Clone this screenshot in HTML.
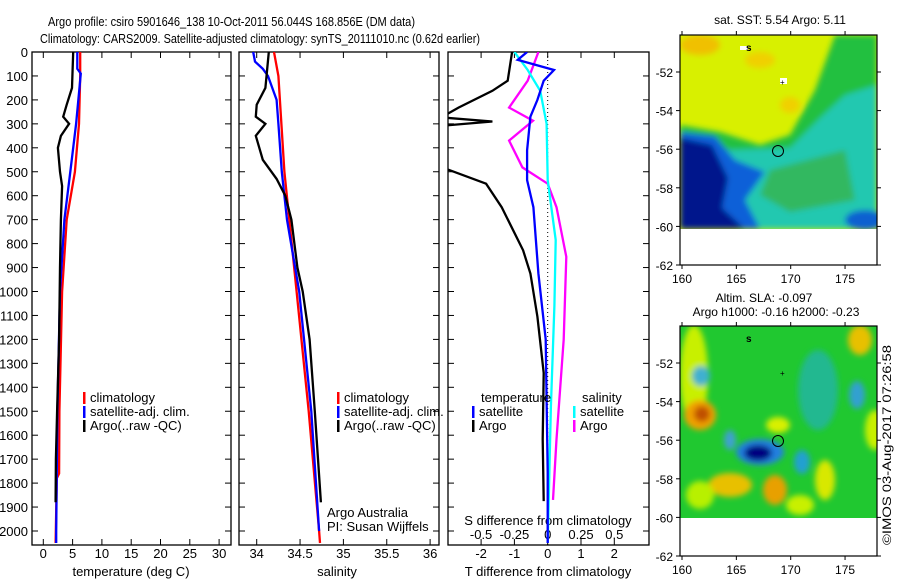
<!DOCTYPE html>
<html><head><meta charset="utf-8"><style>
html,body{margin:0;padding:0;background:#fff;width:900px;height:580px;overflow:hidden}
svg{display:block;font-family:"Liberation Sans",sans-serif;font-size:13px}
</style></head><body>
<svg id="chart" width="900" height="580" viewBox="0 0 900 580">
<defs>
<filter id="blur" x="-20%" y="-20%" width="140%" height="140%"><feGaussianBlur stdDeviation="3"/></filter>
<clipPath id="clipMap1"><rect x="680" y="35" width="197" height="194"/></clipPath>
<clipPath id="clipMap2"><rect x="680" y="326" width="197" height="192"/></clipPath>
<clipPath id="clipP1"><rect x="32" y="52" width="199" height="493"/></clipPath>
<clipPath id="clipP2"><rect x="239" y="52" width="200" height="493"/></clipPath>
<clipPath id="clipP3"><rect x="448" y="52" width="201" height="493"/></clipPath>
</defs>
<text x="48" y="26" textLength="367" lengthAdjust="spacingAndGlyphs">Argo profile: csiro 5901646_138 10-Oct-2011 56.044S 168.856E (DM data)</text>
<text x="40" y="43" textLength="440" lengthAdjust="spacingAndGlyphs">Climatology: CARS2009. Satellite-adjusted climatology: synTS_20111010.nc (0.62d earlier)</text>
<g id="plots"></g>

<!-- top map -->
<g>
<text x="780" y="24" text-anchor="middle" font-size="12">sat. SST: 5.54 Argo: 5.11</text>
<g clip-path="url(#clipMap1)">
<rect x="680" y="35" width="197" height="194" fill="#d8f000"/>
<g filter="url(#blur)">
<ellipse cx="700" cy="45" rx="20" ry="10" fill="#f0c000"/>
<ellipse cx="760" cy="60" rx="15" ry="8" fill="#f0d000"/>
<ellipse cx="790" cy="105" rx="10" ry="8" fill="#f0d000"/>
<polygon points="835,35 877,35 877,229 680,229 680,125 720,132 760,145 790,135 815,90" fill="#20c040"/>
<polygon points="845,95 877,85 877,229 680,229 680,135 730,150 790,148 820,118" fill="#20c8b0"/>
<polygon points="770,170 845,150 855,200 790,212 760,195" fill="#30b860"/>
<polygon points="680,132 715,136 735,160 765,172 745,200 760,229 680,229" fill="#1060d8"/>
<polygon points="680,138 712,145 728,178 722,208 745,229 680,229" fill="#00188c"/>
<ellipse cx="865" cy="220" rx="20" ry="10" fill="#1060d0"/>
</g>
</g>
<rect x="740" y="46" width="8" height="4" fill="#fff"/>
<text x="746" y="51" font-size="10" font-weight="bold">s</text>
<rect x="780" y="78" width="7" height="6" fill="#fff"/>
<text x="780" y="85" font-size="8">+</text>
<circle cx="778" cy="151" r="5.5" fill="none" stroke="#000" stroke-width="1"/>
<g id="map1axes"></g>
</g>

<!-- bottom map -->
<g>
<text x="764" y="302" text-anchor="middle" font-size="12">Altim. SLA: -0.097</text>
<text x="776" y="316" text-anchor="middle" font-size="12">Argo h1000: -0.16 h2000: -0.23</text>
<g clip-path="url(#clipMap2)">
<rect x="680" y="326" width="197" height="192" fill="#20c830"/>
<g filter="url(#blur)">
<ellipse cx="694" cy="375" rx="14" ry="50" fill="#c8f000"/>
<ellipse cx="700" cy="415" rx="16" ry="15" fill="#f0a000"/>
<ellipse cx="702" cy="414" rx="8" ry="8" fill="#c05000"/>
<ellipse cx="701" cy="376" rx="9" ry="10" fill="#40b0d0"/>
<ellipse cx="760" cy="452" rx="24" ry="13" fill="#2080e0"/>
<ellipse cx="758" cy="453" rx="14" ry="8" fill="#000080"/>
<ellipse cx="730" cy="440" rx="6" ry="10" fill="#40a0d0"/>
<ellipse cx="802" cy="462" rx="8" ry="12" fill="#20a0d0"/>
<ellipse cx="818" cy="390" rx="20" ry="40" fill="#20b890"/>
<ellipse cx="857" cy="395" rx="8" ry="14" fill="#30a0d0"/>
<ellipse cx="860" cy="340" rx="12" ry="15" fill="#e8c000"/>
<ellipse cx="875" cy="430" rx="10" ry="20" fill="#c8f000"/>
<ellipse cx="778" cy="425" rx="12" ry="8" fill="#d8f000"/>
<ellipse cx="730" cy="485" rx="22" ry="12" fill="#e8c000"/>
<ellipse cx="775" cy="490" rx="12" ry="15" fill="#e8a000"/>
<ellipse cx="825" cy="480" rx="10" ry="20" fill="#d8e800"/>
<ellipse cx="700" cy="495" rx="14" ry="14" fill="#b8f000"/>
<ellipse cx="800" cy="505" rx="14" ry="10" fill="#c8f000"/>
</g>
</g>
<text x="746" y="342" font-size="10" font-weight="bold">s</text>
<text x="780" y="376" font-size="8">+</text>
<circle cx="778" cy="441" r="5.5" fill="none" stroke="#000" stroke-width="1"/>
<g id="map2axes"></g>
</g>
<text transform="translate(891,545) rotate(-90)" font-size="12" textLength="200" lengthAdjust="spacingAndGlyphs">©IMOS 03-Aug-2017 07:26:58</text>
</svg>
<script>
// ---- data ----
const depthTicks = [0,100,200,300,400,500,600,700,800,900,1000,1100,1200,1300,1400,1500,1600,1700,1800,1900,2000];
const tempTicks = [0,5,10,15,20,25,30];
const salTicks = [34,34.5,35,35.5,36];
const tdiffTicks = [-2,-1,0,1,2];
const sdiffTickLabels = ['-0.5','-0.25','0','0.25','0.5'];
const sdiffTicks = [-0.5,-0.25,0,0.25,0.5];

const tClimDepth = [0,100,300,500,700,1000,1500,1760,1780,2050];
const tClimVal   = [6.3,6.3,6.1,5.4,4.0,3.2,2.75,2.7,2.3,2.1];
const tSatDepth  = [0,70,90,300,500,700,1000,1500,2000,2050];
const tSatVal    = [5.8,5.8,6.4,5.6,4.6,3.6,2.85,2.4,2.2,2.2];
const tArgoDepth = [0,150,220,270,300,350,400,500,560,700,900,1200,1500,1700,1880];
const tArgoVal   = [5.1,4.9,4.0,3.4,4.4,3.0,2.5,2.85,3.2,3.0,2.85,2.7,2.35,2.15,2.1];

const sClimDepth = [0,100,500,1000,1500,2000,2050];
const sClimVal   = [34.2,34.25,34.32,34.46,34.6,34.72,34.73];
const sSatDepth  = [0,40,70,100,200,300,500,700,1000,1500,2000];
const sSatVal    = [33.96,33.98,34.07,34.13,34.23,34.25,34.29,34.35,34.49,34.63,34.72];
const sArgoDepth = [0,150,220,270,300,350,450,530,600,700,900,1000,1200,1500,1880];
const sArgoVal   = [34.14,34.1,34.0,33.99,34.1,33.99,34.07,34.23,34.33,34.4,34.47,34.53,34.61,34.67,34.74];

const dTArgoDepth = [0,120,162,232,273,290,308,480,550,648,828,925,1105,1340,1617,1875];
const dTArgoVal   = [-1.07,-1.2,-1.66,-2.68,-3.2,-1.66,-3.2,-3.2,-1.85,-1.38,-0.74,-0.52,-0.31,-0.12,-0.15,-0.12];
const dTSatDepth  = [0,33,75,120,200,270,410,535,648,925,1200,1755,2050];
const dTSatVal    = [-0.62,-0.9,0.19,-0.12,-0.31,-0.52,-0.62,-0.62,-0.43,-0.28,-0.06,0,0];
const dSSatDepth  = [0,75,162,300,535,785,1060,1480,2050];
const dSSatVal    = [-0.25,-0.15,-0.056,-0.008,0,0.06,0.05,0.024,0];
const dSArgoDepth = [0,120,232,287,370,482,550,648,855,1200,1617,1870];
const dSArgoVal   = [-0.07,-0.15,-0.29,-0.11,-0.29,-0.19,0,0.066,0.14,0.12,0.066,0.04];

const mapLon = [160,165,170,175];
const mapLat = [-52,-54,-56,-58,-60,-62];

// ---- scales ----
const yD = d => 52 + d*0.2395;
const xT = v => 43.3 + v*5.86;
const xS = v => 256.7 + (v-34)*86.7;
const xDT = v => 547.7 + v*33.3;
const xDS = v => 547.7 + v*133.2;
const xLon = v => 682 + (v-160)*10.87;
const yLat1 = v => 72 + (-52 - v)*19.3;
const yLat2 = v => 363 + (-52 - v)*19.3;

const NS='http://www.w3.org/2000/svg';
const root=document.getElementById('plots');
function mk(tag,attrs,parent){const e=document.createElementNS(NS,tag);for(const k in attrs)e.setAttribute(k,attrs[k]);(parent||root).appendChild(e);return e;}
function txt(s,x,y,anchor,parent,size){const t=mk('text',{x:x,y:y,'text-anchor':anchor||'start'},parent);if(size)t.setAttribute('font-size',size);t.textContent=s;return t;}
function stepPath(depths,vals,xf){
  let d='';
  for(let i=0;i<depths.length;i++){
    const x=xf(vals[i]).toFixed(1), y=yD(depths[i]).toFixed(1);
    d += (i===0?'M':' L')+x+','+y;
  }
  return d;
}
function line(depths,vals,xf,color,clip,name){
  const p=mk('path',{d:stepPath(depths,vals,xf),fill:'none',stroke:color,'stroke-width':2.3,'stroke-linejoin':'miter','clip-path':'url(#'+clip+')'});
  
  
}
function frame(x0,x1,name){
  const r=mk('rect',{x:x0,y:52,width:x1-x0,height:493,fill:'none',stroke:'#000','stroke-width':1.3});
  
  
}

frame(32,231,'temperature-panel-frame');
frame(239,439,'salinity-panel-frame');
frame(448,649,'difference-panel-frame');

depthTicks.forEach(d=>{
  const t=txt(String(d),28,yD(d)+5,'end');
  
  
  mk('line',{x1:32,x2:38,y1:yD(d),y2:yD(d),stroke:'#000'});
  mk('line',{x1:231,x2:225,y1:yD(d),y2:yD(d),stroke:'#000'});
  mk('line',{x1:239,x2:245,y1:yD(d),y2:yD(d),stroke:'#000'});
  mk('line',{x1:439,x2:433,y1:yD(d),y2:yD(d),stroke:'#000'});
  mk('line',{x1:448,x2:454,y1:yD(d),y2:yD(d),stroke:'#000'});
  mk('line',{x1:649,x2:643,y1:yD(d),y2:yD(d),stroke:'#000'});
});
tempTicks.forEach(v=>{
  const t=txt(String(v),xT(v),558,'middle');
  
  
  mk('line',{x1:xT(v),x2:xT(v),y1:52,y2:58,stroke:'#000'});
  mk('line',{x1:xT(v),x2:xT(v),y1:545,y2:539,stroke:'#000'});
});
let at=txt('temperature (deg C)',131,576,'middle');


salTicks.forEach(v=>{
  const t=txt(String(v),xS(v),558,'middle');
  
  
  mk('line',{x1:xS(v),x2:xS(v),y1:52,y2:58,stroke:'#000'});
  mk('line',{x1:xS(v),x2:xS(v),y1:545,y2:539,stroke:'#000'});
});
at=txt('salinity',337,576,'middle');


tdiffTicks.forEach(v=>{
  const t=txt(String(v),xDT(v),558,'middle');
  
  
  mk('line',{x1:xDT(v),x2:xDT(v),y1:52,y2:58,stroke:'#000'});
  mk('line',{x1:xDT(v),x2:xDT(v),y1:545,y2:539,stroke:'#000'});
});
sdiffTicks.forEach((v,i)=>{
  const t=txt(sdiffTickLabels[i],xDS(v),539,'middle');
  
  
});
at=txt('S difference from climatology',548,525,'middle');


at=txt('T difference from climatology',548,576,'middle');


mk('line',{x1:xDT(0),x2:xDT(0),y1:52,y2:545,stroke:'#000','stroke-dasharray':'1,3'});

line(tClimDepth,tClimVal,xT,'#ff0000','clipP1','temp-climatology-line');
line(tSatDepth,tSatVal,xT,'#0000ff','clipP1','temp-satellite-line');
line(tArgoDepth,tArgoVal,xT,'#000000','clipP1','temp-argo-line');
line(sClimDepth,sClimVal,xS,'#ff0000','clipP2','sal-climatology-line');
line(sSatDepth,sSatVal,xS,'#0000ff','clipP2','sal-satellite-line');
line(sArgoDepth,sArgoVal,xS,'#000000','clipP2','sal-argo-line');
line(dTArgoDepth,dTArgoVal,xDT,'#000000','clipP3','tdiff-argo-line');
line(dSArgoDepth,dSArgoVal,xDS,'#ff00ff','clipP3','sdiff-argo-line');
line(dSSatDepth,dSSatVal,xDS,'#00ffff','clipP3','sdiff-satellite-line');
line(dTSatDepth,dTSatVal,xDT,'#0000ff','clipP3','tdiff-satellite-line');

function legendItem(x,y,color,label,name){
  const g=mk('g',{});
  
  
  mk('rect',{x:x,y:y-10,width:2.5,height:12,fill:color},g);
  txt(label,x+7,y,'start',g);
}
legendItem(83,402,'#ff0000','climatology','legend-temp-climatology');
legendItem(83,416,'#0000ff','satellite-adj. clim.','legend-temp-satellite');
legendItem(83,430,'#000000','Argo(..raw -QC)','legend-temp-argo');
legendItem(337,402,'#ff0000','climatology','legend-sal-climatology');
legendItem(337,416,'#0000ff','satellite-adj. clim.','legend-sal-satellite');
legendItem(337,430,'#000000','Argo(..raw -QC)','legend-sal-argo');
at=txt('temperature',481,402,'start');  
at=txt('salinity',582,402,'start');  
legendItem(472,416,'#0000ff','satellite','legend-tdiff-satellite');
legendItem(472,430,'#000000','Argo','legend-tdiff-argo');
legendItem(573,416,'#00ffff','satellite','legend-sdiff-satellite');
legendItem(573,430,'#ff00ff','Argo','legend-sdiff-argo');
at=txt('Argo Australia',327,517,'start');  
at=txt('PI: Susan Wijffels',327,531,'start');  

function mapAxes(gid,yLat,top){
  const g=document.getElementById(gid);
  const bottom=yLat(-62);
  mk('rect',{x:680,y:top,width:197,height:bottom-top,fill:'none',stroke:'#000','stroke-width':1.2},g);
  mapLon.forEach(v=>{
    mk('line',{x1:xLon(v),x2:xLon(v),y1:top-4,y2:top,stroke:'#000'},g);
    mk('line',{x1:xLon(v),x2:xLon(v),y1:bottom,y2:bottom+4,stroke:'#000'},g);
    const t=txt(String(v),xLon(v),bottom+18,'middle',g,12);
    
    
  });
  mapLat.forEach(v=>{
    mk('line',{x1:676,x2:680,y1:yLat(v),y2:yLat(v),stroke:'#000'},g);
    mk('line',{x1:877,x2:881,y1:yLat(v),y2:yLat(v),stroke:'#000'},g);
    const t=txt(String(v),673,yLat(v)+5,'end',g,12);
    
    
  });
}
mapAxes('map1axes',yLat1,35);
mapAxes('map2axes',yLat2,326);
</script>
</body></html>
